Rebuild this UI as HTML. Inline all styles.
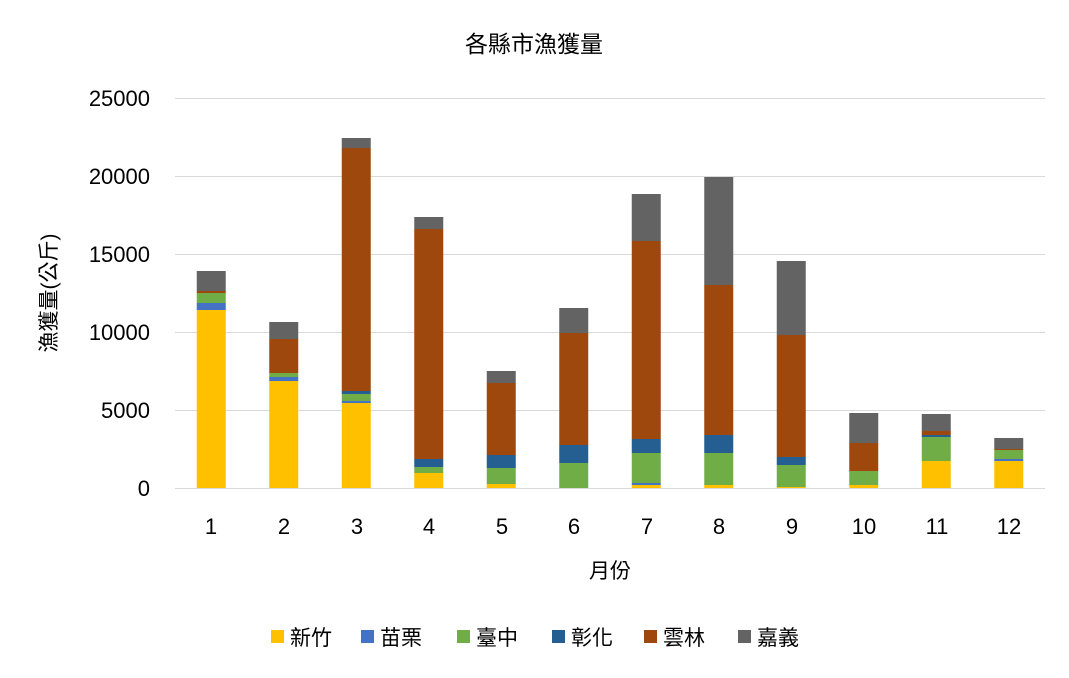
<!DOCTYPE html>
<html><head><meta charset="utf-8"><style>
html,body{margin:0;padding:0;background:#fff;}
svg text{font-family:"Liberation Sans","Noto Sans CJK TC",sans-serif;fill:#000;}
</style></head><body>
<svg width="1069" height="673" viewBox="0 0 1069 673" xmlns="http://www.w3.org/2000/svg">
<rect width="1069" height="673" fill="#fff"/>
<text x="534" y="52" font-size="23" text-anchor="middle">各縣市漁獲量</text>
<g stroke="#d9d9d9" stroke-width="1">
<line x1="175" y1="98.5" x2="1045" y2="98.5"/>
<line x1="175" y1="176.5" x2="1045" y2="176.5"/>
<line x1="175" y1="254.5" x2="1045" y2="254.5"/>
<line x1="175" y1="332.5" x2="1045" y2="332.5"/>
<line x1="175" y1="410.5" x2="1045" y2="410.5"/>
<line x1="175" y1="488.5" x2="1045" y2="488.5"/>
</g>
<g font-size="22" text-anchor="end">
<text x="150" y="106">25000</text>
<text x="150" y="184">20000</text>
<text x="150" y="262">15000</text>
<text x="150" y="340">10000</text>
<text x="150" y="418">5000</text>
<text x="150" y="496">0</text>
</g>
<text transform="translate(56,293) rotate(-90)" font-size="21" text-anchor="middle">漁獲量(公斤)</text>
<g>
<rect x="196.75" y="310" width="29" height="178" fill="#FFC000"/>
<rect x="196.75" y="303" width="29" height="7" fill="#4472C4"/>
<rect x="196.75" y="293" width="29" height="10" fill="#70AD47"/>
<rect x="196.75" y="291" width="29" height="2" fill="#9E480E"/>
<rect x="196.75" y="271" width="29" height="20" fill="#636363"/>

<rect x="269.25" y="381" width="29" height="107" fill="#FFC000"/>
<rect x="269.25" y="377" width="29" height="4" fill="#4472C4"/>
<rect x="269.25" y="373" width="29" height="4" fill="#70AD47"/>
<rect x="269.25" y="339" width="29" height="34" fill="#9E480E"/>
<rect x="269.25" y="322" width="29" height="17" fill="#636363"/>

<rect x="341.75" y="403" width="29" height="85" fill="#FFC000"/>
<rect x="341.75" y="401" width="29" height="2" fill="#4472C4"/>
<rect x="341.75" y="394" width="29" height="7" fill="#70AD47"/>
<rect x="341.75" y="391" width="29" height="3" fill="#255E91"/>
<rect x="341.75" y="148" width="29" height="243" fill="#9E480E"/>
<rect x="341.75" y="138" width="29" height="10" fill="#636363"/>

<rect x="414.25" y="473" width="29" height="15" fill="#FFC000"/>
<rect x="414.25" y="467" width="29" height="6" fill="#70AD47"/>
<rect x="414.25" y="459" width="29" height="8" fill="#255E91"/>
<rect x="414.25" y="229" width="29" height="230" fill="#9E480E"/>
<rect x="414.25" y="217" width="29" height="12" fill="#636363"/>

<rect x="486.75" y="484" width="29" height="4" fill="#FFC000"/>
<rect x="486.75" y="468" width="29" height="16" fill="#70AD47"/>
<rect x="486.75" y="455" width="29" height="13" fill="#255E91"/>
<rect x="486.75" y="383" width="29" height="72" fill="#9E480E"/>
<rect x="486.75" y="371" width="29" height="12" fill="#636363"/>

<rect x="559.25" y="463" width="29" height="25" fill="#70AD47"/>
<rect x="559.25" y="445" width="29" height="18" fill="#255E91"/>
<rect x="559.25" y="333" width="29" height="112" fill="#9E480E"/>
<rect x="559.25" y="308" width="29" height="25" fill="#636363"/>

<rect x="631.75" y="485" width="29" height="3" fill="#FFC000"/>
<rect x="631.75" y="483" width="29" height="2" fill="#4472C4"/>
<rect x="631.75" y="453" width="29" height="30" fill="#70AD47"/>
<rect x="631.75" y="439" width="29" height="14" fill="#255E91"/>
<rect x="631.75" y="241" width="29" height="198" fill="#9E480E"/>
<rect x="631.75" y="194" width="29" height="47" fill="#636363"/>

<rect x="704.25" y="485" width="29" height="3" fill="#FFC000"/>
<rect x="704.25" y="453" width="29" height="32" fill="#70AD47"/>
<rect x="704.25" y="435" width="29" height="18" fill="#255E91"/>
<rect x="704.25" y="285" width="29" height="150" fill="#9E480E"/>
<rect x="704.25" y="177" width="29" height="108" fill="#636363"/>

<rect x="776.75" y="487" width="29" height="1" fill="#FFC000"/>
<rect x="776.75" y="465" width="29" height="22" fill="#70AD47"/>
<rect x="776.75" y="457" width="29" height="8" fill="#255E91"/>
<rect x="776.75" y="335" width="29" height="122" fill="#9E480E"/>
<rect x="776.75" y="261" width="29" height="74" fill="#636363"/>

<rect x="849.25" y="485" width="29" height="3" fill="#FFC000"/>
<rect x="849.25" y="471" width="29" height="14" fill="#70AD47"/>
<rect x="849.25" y="443" width="29" height="28" fill="#9E480E"/>
<rect x="849.25" y="413" width="29" height="30" fill="#636363"/>

<rect x="921.75" y="461" width="29" height="27" fill="#FFC000"/>
<rect x="921.75" y="437" width="29" height="24" fill="#70AD47"/>
<rect x="921.75" y="435" width="29" height="2" fill="#255E91"/>
<rect x="921.75" y="431" width="29" height="4" fill="#9E480E"/>
<rect x="921.75" y="414" width="29" height="17" fill="#636363"/>

<rect x="994.25" y="461" width="29" height="27" fill="#FFC000"/>
<rect x="994.25" y="459" width="29" height="2" fill="#4472C4"/>
<rect x="994.25" y="450" width="29" height="9" fill="#70AD47"/>
<rect x="994.25" y="449" width="29" height="1" fill="#9E480E"/>
<rect x="994.25" y="438" width="29" height="11" fill="#636363"/>
</g>
<g font-size="22" text-anchor="middle">
<text x="211" y="534">1</text><text x="284" y="534">2</text><text x="357" y="534">3</text>
<text x="429" y="534">4</text><text x="502" y="534">5</text><text x="574" y="534">6</text>
<text x="647" y="534">7</text><text x="719" y="534">8</text><text x="792" y="534">9</text>
<text x="864" y="534">10</text><text x="937" y="534">11</text><text x="1009" y="534">12</text>
</g>
<text x="610" y="578" font-size="21" text-anchor="middle">月份</text>
<g font-size="21">
<rect x="271" y="630" width="13" height="13" fill="#FFC000"/><text x="290" y="645">新竹</text>
<rect x="361" y="630" width="13" height="13" fill="#4472C4"/><text x="380" y="645">苗栗</text>
<rect x="457" y="630" width="13" height="13" fill="#70AD47"/><text x="476" y="645">臺中</text>
<rect x="552" y="630" width="13" height="13" fill="#255E91"/><text x="571" y="645">彰化</text>
<rect x="644" y="630" width="13" height="13" fill="#9E480E"/><text x="663" y="645">雲林</text>
<rect x="738" y="630" width="13" height="13" fill="#636363"/><text x="757" y="645">嘉義</text>
</g>
</svg>
</body></html>
